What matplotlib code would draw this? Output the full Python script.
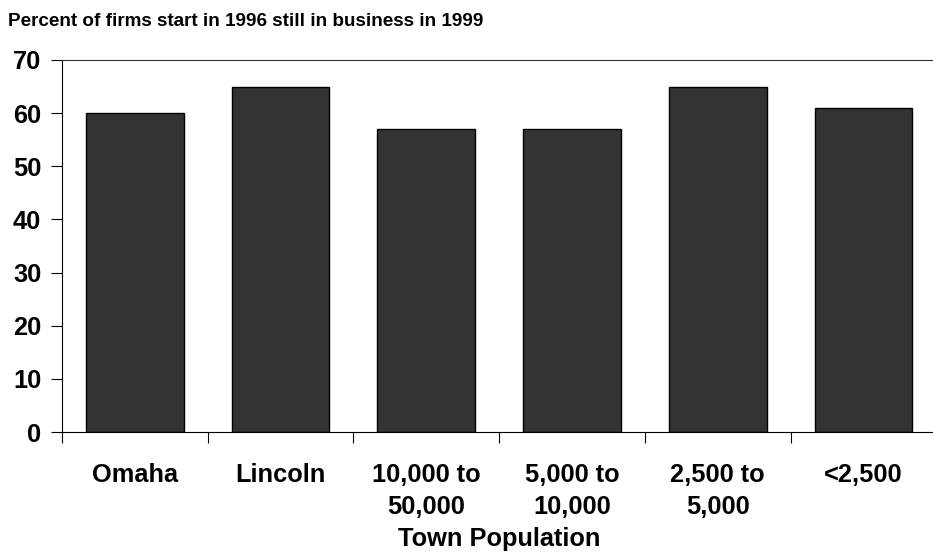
import matplotlib.pyplot as plt

# values
categories = ['Omaha', 'Lincoln', '10,000 to\n50,000', '5,000 to\n10,000', '2,500 to\n5,000', '<2,500']
still_in_business = [60, 65, 57, 57, 65, 61]
y_ticks = [0, 10, 20, 30, 40, 50, 60, 70]

plt.rcParams['font.family'] = ['Liberation Sans', 'DejaVu Sans']
plt.rcParams['font.weight'] = 'bold'


def main():
    fig = plt.figure(figsize=(9.33, 5.58), dpi=100)
    ax = fig.add_axes([0.0665, 0.2258, 0.937, 0.6667])

    x = range(len(categories))
    ax.bar(x, still_in_business, width=0.67, color='#333333', edgecolor='black', linewidth=1.0)

    ax.set_xlim(-0.5, len(categories) - 0.5)
    ax.set_ylim(0, 70)
    ax.set_yticks(y_ticks)
    ax.set_yticklabels([str(t) for t in y_ticks], fontsize=18.3, fontweight='bold')

    # category ticks sit between bars, labels sit under the bar centres
    ax.set_xticks([i - 0.5 for i in range(len(categories) + 1)])
    ax.set_xticklabels([])
    ax.set_xticks(list(x), minor=True)
    ax.set_xticklabels(categories, minor=True, fontsize=18.3, fontweight='bold', linespacing=1.45)
    ax.tick_params(axis='x', which='minor', length=0, pad=22)
    ax.tick_params(axis='x', which='major', length=8, width=0.8, direction='out')
    ax.tick_params(axis='y', length=8, width=0.8, direction='out', pad=7)

    ax.set_xlabel('Town Population', fontsize=18.3, fontweight='bold', labelpad=6)

    ax.spines['right'].set_visible(False)
    ax.spines['top'].set_color('#333333')
    for s in ['left', 'bottom']:
        ax.spines[s].set_color('black')
        ax.spines[s].set_linewidth(0.8)

    fig.text(0.009, 0.962, 'Percent of firms start in 1996 still in business in 1999',
             fontsize=13.6, fontweight='bold', ha='left', va='center')

    plt.savefig('out.png', dpi=100)


if __name__ == "__main__":
    main()
